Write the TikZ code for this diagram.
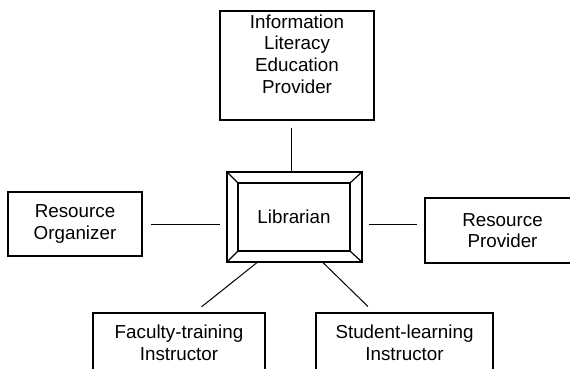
\documentclass[tikz,border=0pt]{standalone}
\usepackage{fontspec}
\setmainfont{Liberation Sans}
\begin{document}
\begin{tikzpicture}[x = 1pt, y = -1pt, font = \fontsize{18.8}{21.6}\selectfont,
	role/.style = {draw, line width = 1.2pt, align = center, inner sep = 0pt},
	link/.style = {line width = 1pt}]
	\clip (0, 0) rectangle (570, 368);
	\node [role, minimum width = 154pt, minimum height = 109pt] (ilep) at (297, 65.5) {};
	\node [anchor = north, align = center, inner sep = 0pt] (ilept) at ([yshift = -4pt]ilep.north) {Information\\Literacy\\Education\\Provider};
	\node [role, minimum width = 135pt, minimum height = 90pt] (lib) at (294.5, 217) {};
	\node [role, minimum width = 112pt, minimum height = 68pt] (libin) at (294, 217) {Librarian};
	\node [role, minimum width = 134pt, minimum height = 64pt] (org) at (75, 224) {Resource\\Organizer};
	\node [role, minimum width = 155pt, minimum height = 65pt] (prov) at (502.5, 230.5) {Resource\\Provider};
	\node [role, minimum width = 172pt, minimum height = 59pt] (fac) at (179, 342.5) {Faculty-training\\Instructor};
	\node [role, minimum width = 177pt, minimum height = 59pt] (stud) at (404.5, 342.5) {Student-learning\\Instructor};
	\draw [line width = 1.2pt] (lib.north west) to (libin.north west);
	\draw [line width = 1.2pt] (lib.north east) to (libin.north east);
	\draw [line width = 1.2pt] (lib.south west) to (libin.south west);
	\draw [line width = 1.2pt] (lib.south east) to (libin.south east);
	\draw [link, shorten <= 7pt] ([xshift = -6pt]ilep.south) to ([xshift = -6pt]ilep.south |- lib.north);
	\draw [link, shorten <= 8pt, shorten >= 6pt] (org.east) to (org.east -| lib.west);
	\draw [link, shorten <= 6pt, shorten >= 7pt] (org.east -| lib.east) to (org.east -| prov.west);
	\draw [link, shorten >= 9pt] ([xshift = -37.5pt]lib.south) to ([xshift = 15.5pt]fac.north);
	\draw [link, shorten >= 8.5pt] ([xshift = 28.5pt]lib.south) to ([xshift = -30.5pt]stud.north);
\end{tikzpicture}
\end{document}
